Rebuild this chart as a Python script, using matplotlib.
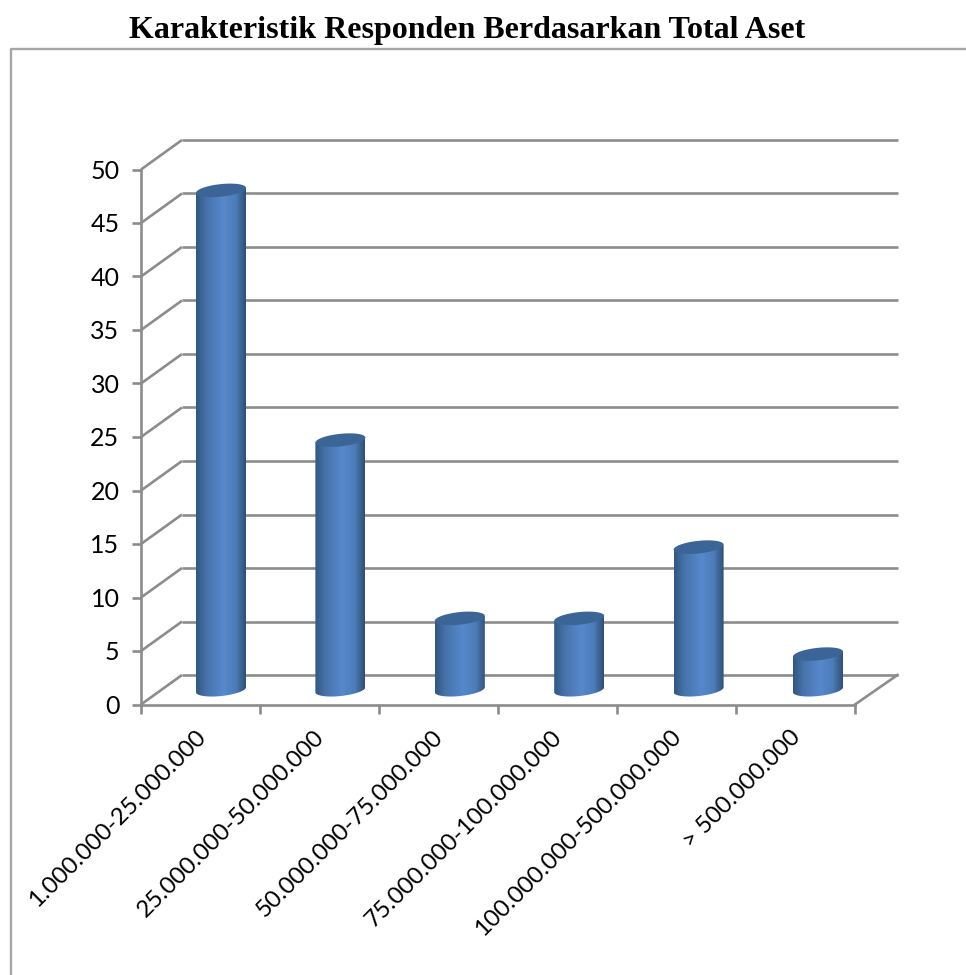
#!/bin/env/python
"""3D-style cylinder column chart of respondents by total assets."""

import numpy as np
import matplotlib
matplotlib.use('Agg')
import matplotlib.pyplot as plt
from matplotlib.colors import LinearSegmentedColormap
from matplotlib.lines import Line2D
from matplotlib.patches import PathPatch
from matplotlib.path import Path

categories = ['1.000.000-25.000.000', '25.000.000-50.000.000', '50.000.000-75.000.000',
              '75.000.000-100.000.000', '100.000.000-500.000.000', '> 500.000.000']
values = [46.67, 23.33, 6.67, 6.67, 13.33, 3.33]
y_ticks = [0, 5, 10, 15, 20, 25, 30, 35, 40, 45, 50]
title = 'Karakteristik Responden Berdasarkan Total Aset'

W, H = 966, 975
col_grid = '#8c8c8c'
col_frame = '#a6a6a6'
col_cap = '#3a6596'
line_width = 1.9

fig = plt.figure(figsize=(W / 100, H / 100), dpi=100)
ax = fig.add_axes([141 / W, 1 - 704.5 / H, 714 / W, 535 / H])
ax.set_xlim(0, 6)
ax.set_ylim(0, 50)

# data units per pixel, used for the oblique depth of the walls and the ellipses
px_x = 6 / 714
px_y = 50 / 535
depth_x = 41 * px_x
depth_y = 29.5 * px_y
back_end = 6 + 42.5 * px_x

# side wall diagonals and back wall lines
for tick in y_ticks:
    ax.plot([0, depth_x], [tick, tick + depth_y], color=col_grid, lw=line_width,
            clip_on=False, zorder=1, solid_capstyle='butt')
    ax.plot([depth_x, back_end], [tick + depth_y] * 2, color=col_grid, lw=line_width,
            clip_on=False, zorder=1, solid_capstyle='butt')
ax.plot([6, back_end], [0, depth_y], color=col_grid, lw=line_width, clip_on=False, zorder=1)

# cylinders: horizontal shading clipped to the body outline, then the darker cap
shade = LinearSegmentedColormap.from_list('shade', [(0.0, '#315781'), (0.2, '#4672aa'),
                                                    (0.55, '#5689cc'), (0.8, '#4c7cb9'),
                                                    (1.0, '#2f5075')])
gradient = np.linspace(0, 1, 128).reshape(1, -1)
half_w = 25 * px_x
radius_y = 6.3 * px_y
skew_y = 2.5 * px_y
base_y = depth_y / 2
bar_step = 119.4 * px_x

t_lower = np.linspace(np.pi, 2 * np.pi, 40)
t_full = np.linspace(0, 2 * np.pi, 80)

for i, value in enumerate(values):
    cx = 0.5 + depth_x / 2 + i * bar_step
    top_y = base_y + value

    low_x = cx + half_w * np.cos(t_lower)
    low_y = base_y + radius_y * np.sin(t_lower) + skew_y * np.cos(t_lower)
    body_x = np.concatenate([low_x, [cx + half_w, cx - half_w]])
    body_y = np.concatenate([low_y, [top_y + skew_y, top_y - skew_y]])
    body = Path(np.column_stack([body_x, body_y]))

    im = ax.imshow(gradient, cmap=shade, aspect='auto', interpolation='bilinear', zorder=2,
                   extent=[cx - half_w, cx + half_w, base_y - radius_y - skew_y, top_y + skew_y])
    im.set_clip_path(body, transform=ax.transData)

    cap_x = cx + half_w * np.cos(t_full)
    cap_y = top_y + radius_y * np.sin(t_full) + skew_y * np.cos(t_full)
    ax.add_patch(PathPatch(Path(np.column_stack([cap_x, cap_y])), facecolor=col_cap,
                           edgecolor='none', zorder=3, clip_on=False))

ax.set_xlim(0, 6)
ax.set_ylim(0, 50)

for side in ('top', 'right'):
    ax.spines[side].set_visible(False)
for side in ('left', 'bottom'):
    ax.spines[side].set_color(col_grid)
    ax.spines[side].set_linewidth(line_width)

ax.set_yticks(y_ticks)
ax.set_xticks(range(7))
ax.set_xticklabels([''] * 7)
ax.tick_params(axis='both', color=col_grid, width=line_width, length=6.5)
ax.tick_params(axis='y', labelsize=18, pad=9)
for label in ax.get_yticklabels():
    label.set_family('Lato')

# rotated category names, ending just under the middle of each slot
for i, name in enumerate(categories):
    ax.annotate(name, xy=(i + 0.5, 0), xycoords='data', xytext=(1, -21),
                textcoords='offset points', rotation=45, rotation_mode='anchor',
                ha='right', va='center', fontsize=17.3, family='Lato', color='black')

# chart area border, open on the right and at the bottom
fig.add_artist(Line2D([11 / W, 11 / W, 1], [0, 1 - 49 / H, 1 - 49 / H], color=col_frame, lw=1.7))

fig.text(467.5 / W, 1 - 30.5 / H, title, ha='center', va='center', fontsize=23,
         family='Liberation Serif', fontweight='bold', color='black')

fig.savefig('out.png', dpi=100, facecolor='white')
